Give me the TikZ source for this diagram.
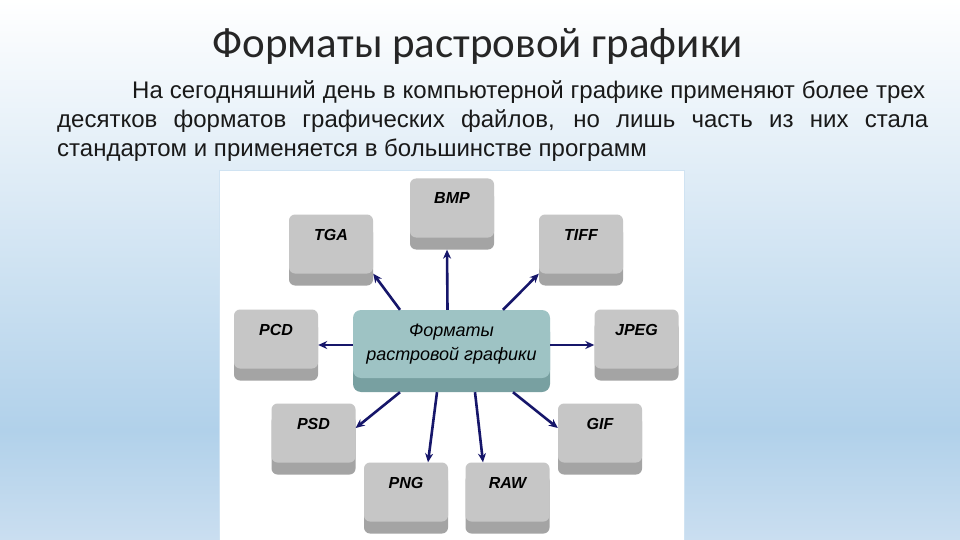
\documentclass[tikz,border=0pt]{standalone}
\usepackage{fontspec}
\setmainfont{Liberation Sans}
\newfontfamily\titlefont{Carlito}
\usetikzlibrary{arrows.meta,shadows}

\definecolor{keyface}{HTML}{C6C6C6}
\definecolor{keyband}{HTML}{A4A4A4}
\definecolor{hubface}{HTML}{9EC3C4}
\definecolor{hubband}{HTML}{78A0A1}
\definecolor{arrowblue}{HTML}{16166A}
\definecolor{bgblue}{HTML}{B1D1EA}
\definecolor{bglow}{HTML}{CADEF0}

\begin{document}
\begin{tikzpicture}[x=1pt, y=-1pt,
  key/.style={fill=keyface, rounded corners=6pt, minimum width=84pt, minimum height=59pt,
    inner xsep=2pt, inner ysep=13pt, text height=12pt, text depth=20pt,
    font=\fontsize{16}{18}\selectfont\bfseries\itshape,
    general shadow={fill=keyband, shadow yshift=-12pt}},
  hub/.style={fill=hubface, rounded corners=8pt, minimum width=197pt, minimum height=68pt,
    align=center, font=\fontsize{18}{24}\selectfont\itshape,
    general shadow={fill=hubband, shadow yshift=-14pt}},
  arr/.style={draw=arrowblue, line width=2.6pt, -{Stealth[length=9pt,width=8pt]}}]
  \useasboundingbox (0,0) rectangle (960,540);

  % background
  \shade[top color=white, bottom color=bgblue] (0,0) rectangle (960,430);
  \shade[top color=bgblue, bottom color=bglow] (0,430) rectangle (960,540);

  \node (title) [anchor=base, font=\titlefont\fontsize{43}{50}\selectfont, text=black!85]
    at (478,58) {Форматы растровой графики};
  \node (intro) [anchor=base west, align=left, inner sep=0pt, text=black!90,
    font=\fontsize{24}{29}\selectfont] at (57,157)
    {\hspace*{75pt}\makebox[793pt][s]{На сегодняшний день в компьютерной графике применяют более трех}\\
     \makebox[871pt][s]{десятков форматов графических файлов, но лишь часть из них стала}\\
     стандартом и применяется в большинстве программ};

  % picture area
  \fill[white] (219,170) rectangle (684,540);
  \draw[color=bgblue!60] (219,540) -- (219,170) -- (684,170) -- (684,540);

  \node (hub) [hub] at (451.5,344) {Форматы\\растровой графики};

  \node (key-BMP) [key] at (452,208) {BMP};
  \node (key-TGA) [key] at (331,244) {TGA};
  \node (key-TIFF) [key] at (581,244) {TIFF};
  \node (key-PCD) [key] at (276,339) {PCD};
  \node (key-JPEG) [key] at (636.5,339) {JPEG};
  \node (key-PSD) [key] at (313.5,433) {PSD};
  \node (key-GIF) [key] at (600,433) {GIF};
  \node (key-PNG) [key] at (406,492) {PNG};
  \node (key-RAW) [key] at (507.5,492) {RAW};

  \draw[arr] ([xshift=-4pt]hub.north) -- ([xshift=-5pt,yshift=-12pt]key-BMP.south);
  \draw[arr] ([xshift=-51.5pt]hub.north) -- (key-TGA.south east);
  \draw[arr] ([xshift=51.5pt]hub.north) -- (key-TIFF.south west);
  \draw[arr] ([yshift=-1pt]hub.west) -- ([yshift=-1pt]hub.west -| key-PCD.east);
  \draw[arr] ([yshift=-1pt]hub.east) -- ([yshift=-1pt]hub.east -| key-JPEG.west);
  \draw[arr] ([xshift=-51.5pt,yshift=-14pt]hub.south) -- ([yshift=5pt]key-PSD.east);
  \draw[arr] ([xshift=61.5pt,yshift=-14pt]hub.south) -- ([yshift=5pt]key-GIF.west);
  \draw[arr] ([xshift=-14.5pt,yshift=-14pt]hub.south) -- ([xshift=22pt]key-PNG.north);
  \draw[arr] ([xshift=23.5pt,yshift=-14pt]hub.south) -- ([xshift=-24.5pt]key-RAW.north);
\end{tikzpicture}
\end{document}
